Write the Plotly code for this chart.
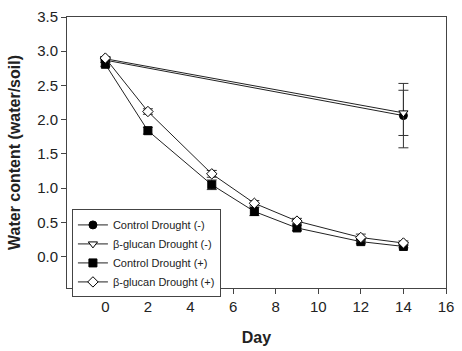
import plotly.graph_objects as go

days_minus = [0, 14]
ctrl_minus = [2.87, 2.06]
ctrl_minus_err = [0.03, 0.47]
glu_minus = [2.89, 2.10]
glu_minus_err = [0.02, 0.33]

days_plus = [0, 2, 5, 7, 9, 12, 14]
ctrl_plus = [2.81, 1.84, 1.05, 0.66, 0.42, 0.22, 0.15]
ctrl_plus_err = [0.03, 0.05, 0.07, 0.06, 0.04, 0.03, 0.02]
glu_plus = [2.90, 2.12, 1.21, 0.78, 0.52, 0.28, 0.20]
glu_plus_err = [0.02, 0.04, 0.05, 0.04, 0.04, 0.05, 0.03]

names = ["Control Drought (-)", "β-glucan Drought (-)", "Control Drought (+)", "β-glucan Drought (+)"]

FONT = "Liberation Sans, Arial, sans-serif"

fig = go.Figure()

def add(x, y, e, name, symbol, fill):
    fig.add_trace(go.Scatter(
        x=x, y=y, name=name, mode="lines+markers",
        line=dict(color="#222", width=1),
        marker=dict(symbol=symbol, size=8, color=fill, line=dict(color="black", width=1)),
        error_y=dict(type="data", array=e, color="#333", thickness=1, width=5),
    ))

add(days_minus, ctrl_minus, ctrl_minus_err, names[0], "circle", "black")
add(days_minus, glu_minus, glu_minus_err, names[1], "triangle-down", "white")
add(days_plus, ctrl_plus, ctrl_plus_err, names[2], "square", "black")
add(days_plus, glu_plus, glu_plus_err, names[3], "diamond", "white")

axis_common = dict(
    showline=True, linecolor="#444", linewidth=1, mirror=True,
    ticks="outside", ticklen=5, tickcolor="#444",
    showgrid=False, zeroline=False,
    tickfont=dict(family=FONT, size=15, color="#222"),
)

fig.update_layout(
    width=462, height=351,
    margin=dict(l=67, r=8, t=13, b=61),
    paper_bgcolor="white", plot_bgcolor="white",
    font=dict(family=FONT, color="#222"),
    xaxis=dict(range=[-1.8, 16], tickvals=[0, 2, 4, 6, 8, 10, 12, 14, 16],
               title=dict(text="<b>Day</b>", font=dict(family=FONT, size=16), standoff=17), **axis_common),
    yaxis=dict(range=[-0.457, 3.5], tickvals=[0, 0.5, 1, 1.5, 2, 2.5, 3, 3.5], tickformat=".1f",
               title=dict(text="<b>Water content (water/soil)</b>", font=dict(family=FONT, size=16), standoff=12), **axis_common),
    legend=dict(x=0.013, y=0.29, xanchor="left", yanchor="top",
                bordercolor="#444", borderwidth=1, bgcolor="white",
                font=dict(family=FONT, size=11), tracegroupgap=0, itemwidth=30),
    showlegend=True,
)

fig.write_html("out.html")
